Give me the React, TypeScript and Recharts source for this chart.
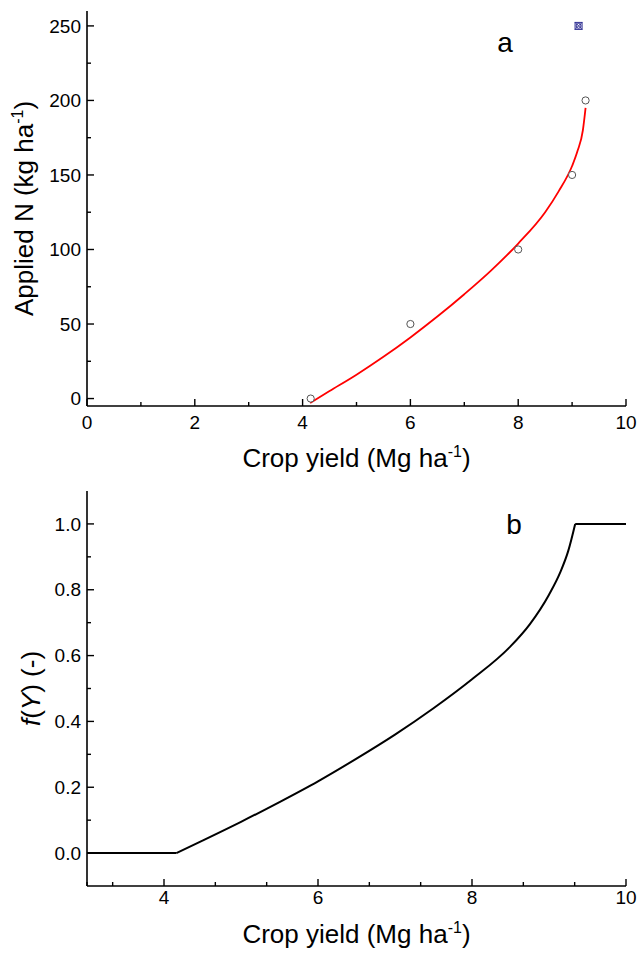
import React from "react";
import {
  ComposedChart,
  Line,
  Scatter,
  XAxis,
  YAxis,
} from "recharts";

const FONT = "'Liberation Sans', Arial, sans-serif";

// panel a: observations
const obsYield = [4.15, 6, 8, 9, 9.25];
const obsN = [0, 50, 100, 150, 200];
const outlierYield = [9.12];
const outlierN = [250];

// panel a: fitted curve (red)
const fitYield = [4.14, 4.5, 5, 5.5, 6, 6.5, 7, 7.5, 8, 8.5, 8.75, 9, 9.1, 9.2, 9.25];
const fitN = [-3, 5, 16, 28, 41, 55, 70, 86, 104, 125, 139, 156, 166, 180, 195];

// panel b: f(Y)
const floorYield = [3, 4.16];
const floorF = [0, 0];
const curveYield = [4.16, 4.5, 5, 5.5, 6, 6.5, 7, 7.5, 8, 8.5, 8.75, 9, 9.15, 9.25, 9.34];
const curveF = [0, 0.038, 0.095, 0.155, 0.218, 0.287, 0.36, 0.44, 0.528, 0.628, 0.695, 0.785, 0.855, 0.918, 1];
const capYield = [9.34, 10];
const capF = [1, 1];

// ticks
const xTicksA = [0, 1, 2, 3, 4, 5, 6, 7, 8, 9, 10];
const xMajorA = [0, 2, 4, 6, 8, 10];
const yTicksA = [0, 25, 50, 75, 100, 125, 150, 175, 200, 225, 250];
const yMajorA = [0, 50, 100, 150, 200, 250];
const xTicksB = [3, 10 / 3, 4, 14 / 3, 16 / 3, 6, 20 / 3, 22 / 3, 8, 26 / 3, 28 / 3, 10];
const xMajorB = [4, 6, 8, 10];
const yTicksB = [0, 0.1, 0.2, 0.3, 0.4, 0.5, 0.6, 0.7, 0.8, 0.9, 1.0];
const yMajorB = [0, 0.2, 0.4, 0.6, 0.8, 1.0];

const zip = (xs: number[], ys: number[]) => xs.map((x, i) => ({ x, y: ys[i] }));

const AXIS = { stroke: "#000", strokeWidth: 1.6 };

const XTick = (props: any) => {
  const { x, y, payload, major, gap, fmt } = props;
  const isMajor = major.some((m: number) => Math.abs(m - payload.value) < 1e-6);
  return (
    <g>
      <line x1={x} x2={x} y1={y} y2={y - (isMajor ? 7 : 4)} stroke="#000" strokeWidth={1.4} />
      {isMajor && (
        <text x={x} y={y + gap} dy="0.35em" textAnchor="middle" fontSize={19} fontFamily={FONT} fill="#000">
          {fmt(payload.value)}
        </text>
      )}
    </g>
  );
};

const YTick = (props: any) => {
  const { x, y, payload, major, fmt } = props;
  const isMajor = major.some((m: number) => Math.abs(m - payload.value) < 1e-6);
  return (
    <g>
      <line x1={x} x2={x + (isMajor ? 7 : 4)} y1={y} y2={y} stroke="#000" strokeWidth={1.4} />
      {isMajor && (
        <text x={x - 6} y={y} dy="0.35em" textAnchor="end" fontSize={19} fontFamily={FONT} fill="#000">
          {fmt(payload.value)}
        </text>
      )}
    </g>
  );
};

const XTitle = (props: any) => {
  const vb = props.viewBox || { x: 0, y: 0, width: 0, height: 0 };
  return (
    <text x={vb.x + vb.width / 2} y={vb.y + props.base} textAnchor="middle" fontSize={26} fontFamily={FONT} fill="#000">
      Crop yield (Mg ha<tspan fontSize={16} dy={-10}>-1</tspan>
      <tspan dy={10}>)</tspan>
    </text>
  );
};

const YTitleA = (props: any) => {
  const vb = props.viewBox || { x: 0, y: 0, width: 0, height: 0 };
  const cx = vb.x + 33;
  const cy = vb.y + vb.height / 2;
  return (
    <text transform={`translate(${cx},${cy}) rotate(-90)`} textAnchor="middle" fontSize={26} fontFamily={FONT} fill="#000">
      Applied N (kg ha<tspan fontSize={16} dy={-10}>-1</tspan>
      <tspan dy={10}>)</tspan>
    </text>
  );
};

const YTitleB = (props: any) => {
  const vb = props.viewBox || { x: 0, y: 0, width: 0, height: 0 };
  const cx = vb.x + 40;
  const cy = vb.y + vb.height / 2;
  return (
    <text transform={`translate(${cx},${cy}) rotate(-90)`} textAnchor="middle" fontSize={26} fontFamily={FONT} fill="#000">
      <tspan fontStyle="italic">f</tspan>(<tspan fontStyle="italic">Y</tspan>) (-)
    </text>
  );
};

const OpenCircle = (props: any) => (
  <circle cx={props.cx} cy={props.cy} r={3.6} fill="#fff" stroke="#555" strokeWidth={1} />
);

const CrossedBox = (props: any) => {
  const { cx, cy } = props;
  const h = 3.5;
  return (
    <g stroke="#2e2e92" strokeWidth={1} fill="none">
      <rect x={cx - h} y={cy - h} width={h * 2} height={h * 2} />
      <line x1={cx - h} y1={cy - h} x2={cx + h} y2={cy + h} />
      <line x1={cx - h} y1={cy + h} x2={cx + h} y2={cy - h} />
      <circle cx={cx} cy={cy} r={2.4} />
    </g>
  );
};

export default function App() {
  return (
    <div style={{ position: "absolute", left: 0, top: 0, width: 637, height: 953, background: "#fff" }}>
      <div style={{ position: "absolute", left: 0, top: 0 }}>
        <ComposedChart width={637} height={476} margin={{ top: 11, right: 11, left: 0, bottom: 0 }}>
          <XAxis
            type="number"
            dataKey="x"
            domain={[0, 10]}
            allowDataOverflow
            ticks={xTicksA}
            interval={0}
            tickSize={0}
            tickMargin={0}
            height={70}
            axisLine={AXIS}
            tickLine={false}
            tick={(p: any) => <XTick {...p} major={xMajorA} gap={16} fmt={(v: number) => String(v)} />}
            label={{ content: (p: any) => <XTitle {...p} base={61} /> }}
          />
          <XAxis xAxisId="top" orientation="top" type="number" domain={[0, 10]} height={0} tick={false} tickLine={false} axisLine={AXIS} />
          <YAxis
            type="number"
            dataKey="y"
            domain={[-5, 260]}
            allowDataOverflow
            ticks={yTicksA}
            interval={0}
            tickSize={0}
            tickMargin={0}
            width={87}
            axisLine={AXIS}
            tickLine={false}
            tick={(p: any) => <YTick {...p} major={yMajorA} fmt={(v: number) => String(v)} />}
            label={{ content: (p: any) => <YTitleA {...p} /> }}
          />
          <YAxis yAxisId="right" orientation="right" type="number" domain={[-5, 260]} width={0} tick={false} tickLine={false} axisLine={AXIS} />
          <Scatter data={zip(obsYield, obsN)} dataKey="y" shape={OpenCircle} isAnimationActive={false} />
          <Scatter data={zip(outlierYield, outlierN)} dataKey="y" shape={CrossedBox} isAnimationActive={false} />
          <Line data={zip(fitYield, fitN)} dataKey="y" type="monotone" stroke="#ff0000" strokeWidth={1.8} dot={false} isAnimationActive={false} />
        </ComposedChart>
      </div>

      <div style={{ position: "absolute", left: 0, top: 470 }}>
        <ComposedChart width={637} height={483} margin={{ top: 21, right: 11, left: 0, bottom: 0 }}>
          <XAxis
            type="number"
            dataKey="x"
            domain={[3, 10]}
            allowDataOverflow
            ticks={xTicksB}
            interval={0}
            tickSize={0}
            tickMargin={0}
            height={67}
            axisLine={AXIS}
            tickLine={false}
            tick={(p: any) => <XTick {...p} major={xMajorB} gap={11.5} fmt={(v: number) => String(Math.round(v))} />}
            label={{ content: (p: any) => <XTitle {...p} base={57} /> }}
          />
          <XAxis xAxisId="top" orientation="top" type="number" domain={[3, 10]} height={0} tick={false} tickLine={false} axisLine={AXIS} />
          <YAxis
            type="number"
            dataKey="y"
            domain={[-0.1, 1.1]}
            allowDataOverflow
            ticks={yTicksB}
            interval={0}
            tickSize={0}
            tickMargin={0}
            width={87}
            axisLine={AXIS}
            tickLine={false}
            tick={(p: any) => <YTick {...p} major={yMajorB} fmt={(v: number) => v.toFixed(1)} />}
            label={{ content: (p: any) => <YTitleB {...p} /> }}
          />
          <YAxis yAxisId="right" orientation="right" type="number" domain={[-0.1, 1.1]} width={0} tick={false} tickLine={false} axisLine={AXIS} />
          <Line data={zip(floorYield, floorF)} dataKey="y" type="linear" stroke="#000" strokeWidth={2} dot={false} isAnimationActive={false} />
          <Line data={zip(curveYield, curveF)} dataKey="y" type="monotone" stroke="#000" strokeWidth={2} dot={false} isAnimationActive={false} />
          <Line data={zip(capYield, capF)} dataKey="y" type="linear" stroke="#000" strokeWidth={2} dot={false} isAnimationActive={false} />
        </ComposedChart>
      </div>

      <svg width={637} height={953} style={{ position: "absolute", left: 0, top: 0, pointerEvents: "none" }}>
        <text x={505} y={52} textAnchor="middle" fontSize={28} fontFamily={FONT} fill="#000">a</text>
        <text x={514} y={534} textAnchor="middle" fontSize={28} fontFamily={FONT} fill="#000">b</text>
      </svg>
    </div>
  );
}
